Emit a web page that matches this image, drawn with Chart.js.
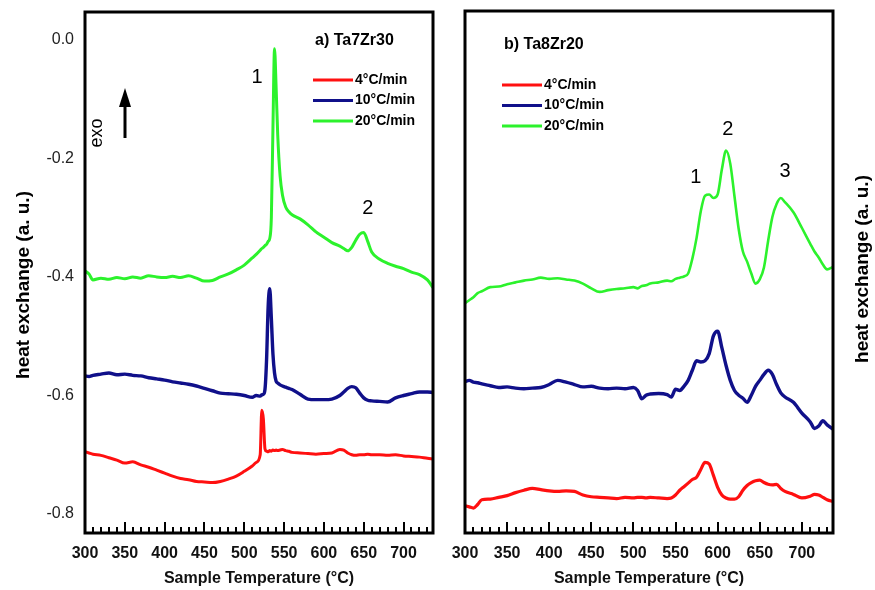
<!DOCTYPE html>
<html>
<head>
<meta charset="utf-8">
<script src="https://cdn.jsdelivr.net/npm/chart.js@4.4.1/dist/chart.umd.min.js"></script>
<style>
  html, body { margin: 0; padding: 0; background: #fff; }
  #wrap { position: relative; width: 875px; height: 590px; }
  canvas { position: absolute; top: 0; }
  #chartA { left: 0; }
  #chartB { left: 445px; }
</style>
</head>
<body>
<div id="wrap">
  <canvas id="chartA" width="445" height="590"></canvas>
  <canvas id="chartB" width="430" height="590"></canvas>
</div>
<script>
// Rates (legend)
const rates = ['4°C/min', '10°C/min', '20°C/min'];
const colors = ['#ff1010', '#10108a', '#2cf22c'];

// a) Ta7Zr30 - temperatures (°C)
const tempA = [300, 305, 310, 320, 330, 340, 350, 360, 370, 380, 390, 400, 410, 420, 430, 440, 450, 460, 470, 480, 490, 500, 510, 515, 520, 522, 524, 526, 528, 530, 532, 534, 536, 538, 540, 542, 545, 548, 552, 556, 560, 570, 580, 590, 600, 610, 620, 625, 630, 635, 640, 645, 650, 655, 660, 670, 680, 690, 700, 710, 720, 730, 737];
const redA = [-0.695, -0.697, -0.699, -0.701, -0.705, -0.709, -0.714, -0.712, -0.717, -0.721, -0.726, -0.731, -0.736, -0.740, -0.742, -0.745, -0.746, -0.747, -0.745, -0.741, -0.736, -0.728, -0.719, -0.713, -0.700, -0.625, -0.640, -0.690, -0.694, -0.695, -0.693, -0.694, -0.692, -0.693, -0.692, -0.693, -0.692, -0.691, -0.693, -0.694, -0.696, -0.697, -0.698, -0.699, -0.698, -0.697, -0.691, -0.692, -0.697, -0.700, -0.701, -0.700, -0.700, -0.699, -0.700, -0.700, -0.701, -0.700, -0.702, -0.703, -0.704, -0.706, -0.707];
const blueA = [-0.567, -0.568, -0.566, -0.564, -0.562, -0.565, -0.564, -0.566, -0.567, -0.570, -0.572, -0.574, -0.577, -0.579, -0.581, -0.584, -0.588, -0.592, -0.596, -0.597, -0.598, -0.600, -0.603, -0.600, -0.601, -0.599, -0.598, -0.590, -0.540, -0.450, -0.420, -0.470, -0.530, -0.562, -0.576, -0.579, -0.582, -0.584, -0.586, -0.588, -0.590, -0.598, -0.606, -0.607, -0.607, -0.606, -0.600, -0.594, -0.588, -0.585, -0.587, -0.596, -0.604, -0.608, -0.609, -0.610, -0.611, -0.604, -0.600, -0.597, -0.594, -0.594, -0.595];
const greenA = [-0.390, -0.395, -0.405, -0.402, -0.404, -0.401, -0.403, -0.400, -0.402, -0.398, -0.400, -0.401, -0.399, -0.401, -0.398, -0.402, -0.407, -0.406, -0.400, -0.395, -0.388, -0.380, -0.368, -0.362, -0.355, -0.352, -0.350, -0.347, -0.345, -0.340, -0.335, -0.300, -0.150, -0.015, -0.080, -0.160, -0.230, -0.262, -0.282, -0.290, -0.295, -0.302, -0.312, -0.324, -0.333, -0.342, -0.348, -0.352, -0.356, -0.350, -0.338, -0.328, -0.325, -0.340, -0.358, -0.370, -0.377, -0.382, -0.386, -0.392, -0.396, -0.405, -0.418];

// b) Ta8Zr20 - temperatures (°C)
const tempB = [300, 305, 310, 315, 320, 330, 340, 350, 360, 370, 380, 390, 400, 410, 420, 430, 440, 450, 460, 470, 480, 490, 500, 505, 510, 515, 520, 530, 540, 545, 550, 555, 560, 565, 570, 575, 580, 585, 590, 595, 600, 605, 610, 615, 620, 625, 630, 635, 640, 645, 650, 655, 660, 665, 670, 675, 680, 690, 700, 710, 715, 720, 725, 730, 737];
const redB = [-0.786, -0.788, -0.790, -0.784, -0.776, -0.775, -0.772, -0.769, -0.764, -0.760, -0.757, -0.759, -0.761, -0.762, -0.761, -0.762, -0.768, -0.771, -0.772, -0.773, -0.774, -0.772, -0.773, -0.772, -0.772, -0.773, -0.772, -0.773, -0.774, -0.773, -0.768, -0.760, -0.754, -0.748, -0.742, -0.738, -0.725, -0.713, -0.716, -0.735, -0.755, -0.768, -0.773, -0.775, -0.775, -0.771, -0.760, -0.752, -0.747, -0.744, -0.743, -0.747, -0.750, -0.751, -0.750, -0.757, -0.762, -0.767, -0.773, -0.770, -0.767, -0.768, -0.772, -0.776, -0.779];
const blueB = [-0.577, -0.575, -0.578, -0.579, -0.581, -0.584, -0.587, -0.586, -0.588, -0.589, -0.588, -0.587, -0.582, -0.575, -0.578, -0.582, -0.586, -0.585, -0.588, -0.589, -0.588, -0.589, -0.587, -0.592, -0.606, -0.600, -0.598, -0.597, -0.599, -0.603, -0.590, -0.592, -0.585, -0.575, -0.558, -0.542, -0.544, -0.542, -0.530, -0.500, -0.492, -0.520, -0.550, -0.575, -0.592, -0.600, -0.605, -0.612, -0.600, -0.585, -0.575, -0.565, -0.558, -0.565, -0.582, -0.596, -0.603, -0.612, -0.630, -0.645, -0.656, -0.652, -0.643, -0.650, -0.657];
const greenB = [-0.445, -0.440, -0.435, -0.428, -0.425, -0.418, -0.417, -0.413, -0.410, -0.407, -0.405, -0.402, -0.404, -0.403, -0.405, -0.407, -0.412, -0.420, -0.426, -0.423, -0.421, -0.420, -0.418, -0.420, -0.416, -0.415, -0.412, -0.410, -0.407, -0.408, -0.404, -0.402, -0.400, -0.395, -0.370, -0.335, -0.290, -0.264, -0.262, -0.268, -0.262, -0.220, -0.188, -0.210, -0.265, -0.320, -0.358, -0.375, -0.395, -0.412, -0.405, -0.385, -0.340, -0.300, -0.278, -0.268, -0.275, -0.292, -0.318, -0.345, -0.358, -0.368, -0.380, -0.388, -0.384];

// axis ranges / ticks
const xMin = 300, xMax = 737;
const yMin = -0.832, yMax = 0.047;

// peak labels (temperature, value)
const peaksA = [['1', 516, -0.064], ['2', 655, -0.284]];
const peaksB = [['1', 574, -0.233], ['2', 612, -0.152], ['3', 680, -0.223]];

const FONT = "'Liberation Sans', Arial, sans-serif";

function makeSets(temps, series, widths) {
    return series.map((vals, i) => ({
        label: rates[i],
        data: temps.map((t, k) => ({ x: t, y: vals[k] })),
        borderColor: colors[i],
        borderWidth: widths[i],
        pointRadius: 0,
        cubicInterpolationMode: 'monotone',
        fill: false
    }));
}

// frame, inner ticks, legend, labels
const decor = {
    id: 'decor',
    afterDraw(chart, args, opts) {
        const ctx = chart.ctx;
        const a = chart.chartArea;
        const xs = chart.scales.x, ys = chart.scales.y;
        ctx.save();
        // ticks pointing up from the bottom axis
        ctx.strokeStyle = '#000';
        ctx.lineWidth = 2;
        for (let t = 310; t < xMax; t += 10) {
            const px = Math.round(xs.getPixelForValue(t));
            const len = t % 50 === 0 ? 11 : 6;
            ctx.beginPath();
            ctx.moveTo(px, a.bottom);
            ctx.lineTo(px, a.bottom - len);
            ctx.stroke();
        }
        // frame
        ctx.lineWidth = 3;
        ctx.strokeRect(a.left, a.top, a.right - a.left, a.bottom - a.top);

        // panel title
        ctx.fillStyle = '#000';
        ctx.font = 'bold 16px ' + FONT;
        ctx.textBaseline = 'middle';
        ctx.textAlign = 'left';
        ctx.fillText(opts.title, opts.titleX, opts.titleY);

        // legend
        ctx.font = 'bold 14px ' + FONT;
        chart.data.datasets.forEach((ds, i) => {
            const y = opts.legY + i * 20.5;
            ctx.strokeStyle = ds.borderColor;
            ctx.lineWidth = 3;
            ctx.beginPath();
            ctx.moveTo(opts.legX, y);
            ctx.lineTo(opts.legX + 40, y);
            ctx.stroke();
            ctx.fillStyle = '#000';
            ctx.fillText(ds.label, opts.legX + 42, y);
        });

        // peak numbers
        ctx.font = '20px ' + FONT;
        ctx.textAlign = 'center';
        opts.peaks.forEach(p => {
            ctx.fillText(p[0], xs.getPixelForValue(p[1]), ys.getPixelForValue(p[2]));
        });

        // y axis title
        if (opts.yTitleX) {
            ctx.save();
            ctx.translate(opts.yTitleX, opts.yTitleY);
            ctx.rotate(-Math.PI / 2);
            ctx.font = 'bold 19px ' + FONT;
            ctx.fillText('heat exchange (a. u.)', 0, 0);
            ctx.restore();
        }

        // exo arrow
        if (opts.exo) {
            ctx.save();
            ctx.translate(97, 133);
            ctx.rotate(-Math.PI / 2);
            ctx.font = '18px ' + FONT;
            ctx.fillText('exo', 0, 0);
            ctx.restore();
            ctx.lineWidth = 3;
            ctx.strokeStyle = '#000';
            ctx.beginPath();
            ctx.moveTo(125, 138);
            ctx.lineTo(125, 104);
            ctx.stroke();
            ctx.beginPath();
            ctx.moveTo(125, 88);
            ctx.lineTo(119, 107);
            ctx.lineTo(131, 107);
            ctx.closePath();
            ctx.fill();
        }
        ctx.restore();
    }
};

function xScale() {
    return {
        type: 'linear',
        min: xMin,
        max: xMax,
        grid: { display: false, drawTicks: false },
        border: { display: false },
        afterFit: s => { s.height = 57; s.paddingLeft = 0; s.paddingRight = 0; },
        ticks: {
            stepSize: 50,
            includeBounds: false,
            padding: 11,
            maxRotation: 0,
            color: '#111',
            font: { family: FONT, size: 16, weight: 'bold' }
        },
        title: {
            display: true,
            text: 'Sample Temperature (°C)',
            color: '#111',
            font: { family: FONT, size: 16, weight: 'bold' },
            padding: { top: 0, bottom: 2 }
        }
    };
}

const common = {
    responsive: false,
    animation: false,
    events: [],
    plugins: { legend: { display: false }, tooltip: { enabled: false } }
};

// Grafik a) Ta7Zr30
new Chart(document.getElementById('chartA').getContext('2d'), {
    type: 'line',
    data: { datasets: makeSets(tempA, [redA, blueA, greenA], [3, 3.4, 3]) },
    options: {
        ...common,
        layout: { padding: { left: 0, top: 12, right: 12, bottom: 0 } },
        scales: {
            x: xScale(),
            y: {
                type: 'linear',
                min: yMin,
                max: yMax,
                grid: { display: false, drawTicks: false },
                border: { display: false },
                afterFit: s => { s.width = 85; s.paddingTop = 0; s.paddingBottom = 0; },
                ticks: {
                    stepSize: 0.2,
                    includeBounds: false,
                    padding: 11,
                    color: '#222',
                    font: { family: FONT, size: 16 },
                    callback: v => v.toFixed(1)
                }
            }
        },
        plugins: {
            ...common.plugins,
            decor: {
                title: 'a) Ta7Zr30', titleX: 315, titleY: 41,
                legX: 313, legY: 80,
                peaks: peaksA,
                yTitleX: 24, yTitleY: 285,
                exo: true
            }
        }
    },
    plugins: [decor]
});

// Grafik b) Ta8Zr20
new Chart(document.getElementById('chartB').getContext('2d'), {
    type: 'line',
    data: { datasets: makeSets(tempB, [redB, blueB, greenB], [3.2, 3.4, 2.6]) },
    options: {
        ...common,
        layout: { padding: { left: 20, top: 11, right: 42, bottom: 0 } },
        scales: {
            x: xScale(),
            y: { type: 'linear', min: yMin, max: yMax, display: false }
        },
        plugins: {
            ...common.plugins,
            decor: {
                title: 'b) Ta8Zr20', titleX: 59, titleY: 45,
                legX: 57, legY: 85,
                peaks: peaksB,
                yTitleX: 418, yTitleY: 269,
                exo: false
            }
        }
    },
    plugins: [decor]
});
</script>
</body>
</html>
